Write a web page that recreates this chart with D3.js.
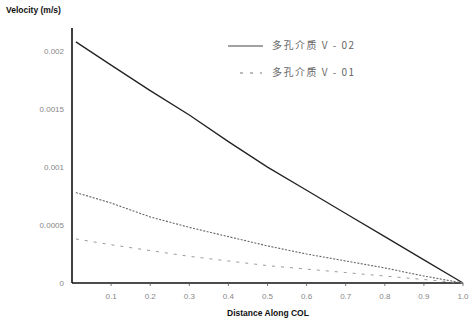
<!DOCTYPE html>
<html>
<head>
<meta charset="utf-8">
<script src="https://cdn.jsdelivr.net/npm/d3@7"></script>
<style>
  body { margin: 0; background: #fff; }
  svg { display: block; font-family: "Liberation Sans", Arial, sans-serif; }
</style>
</head>
<body>
<svg id="canvas" width="473" height="326"></svg>
<script>
// distance along COL
const distance = [0.01, 0.1, 0.2, 0.3, 0.4, 0.5, 0.6, 0.7, 0.8, 0.9, 1.0];
// velocity series (m/s)
const seriesV02 = [0.00208, 0.00188, 0.00166, 0.00145, 0.00122, 0.001, 0.0008, 0.0006, 0.0004, 0.0002, 0];
const seriesV01 = [0.00078, 0.00069, 0.00057, 0.00048, 0.0004, 0.00032, 0.00025, 0.00019, 0.00013, 0.00006, 0];
const seriesLow = [0.00038, 0.00033, 0.00028, 0.00023, 0.00019, 0.00015, 0.00012, 0.00009, 0.00006, 0.00003, 0];

const xTicks = [0.1, 0.2, 0.3, 0.4, 0.5, 0.6, 0.7, 0.8, 0.9, 1.0];
const yTicks = [0, 0.0005, 0.001, 0.0015, 0.002];
const legendLabels = ["多孔介质 V - 02", "多孔介质 V - 01"];

const canvas = d3.select("#canvas");

const x = d3.scaleLinear().domain([0, 1]).range([72, 463]);
const y = d3.scaleLinear().domain([0, 0.0022]).range([283, 28]);

// y axis
canvas.append("line")
  .attr("x1", x(0)).attr("x2", x(0))
  .attr("y1", y(0.0022)).attr("y2", y(0))
  .attr("stroke", "#111").attr("stroke-width", 1.6);

// x axis
canvas.append("line")
  .attr("x1", x(0)).attr("x2", x(1))
  .attr("y1", y(0)).attr("y2", y(0))
  .attr("stroke", "#111").attr("stroke-width", 1.6);

canvas.selectAll(".xtick")
  .data(xTicks)
  .enter()
  .append("line")
  .attr("class", "xtick")
  .attr("x1", (d) => x(d)).attr("x2", (d) => x(d))
  .attr("y1", y(0)).attr("y2", y(0) + 3)
  .attr("stroke", "#555").attr("stroke-width", 0.8);

canvas.selectAll(".xlabel")
  .data(xTicks)
  .enter()
  .append("text")
  .attr("class", "xlabel")
  .attr("x", (d) => x(d))
  .attr("y", 299)
  .attr("text-anchor", "middle")
  .attr("font-size", 8)
  .attr("fill", "#888")
  .text((d) => d.toFixed(1));

canvas.selectAll(".ylabel")
  .data(yTicks)
  .enter()
  .append("text")
  .attr("class", "ylabel")
  .attr("x", 64)
  .attr("y", (d) => y(d) + 3)
  .attr("text-anchor", "end")
  .attr("font-size", 8)
  .attr("fill", "#888")
  .text((d) => (d === 0 ? "0" : String(d)));

// axis titles
canvas.append("text")
  .attr("x", 6).attr("y", 13)
  .attr("font-size", 8.5).attr("font-weight", "bold")
  .attr("fill", "#111")
  .text("Velocity (m/s)");

canvas.append("text")
  .attr("x", 268).attr("y", 316)
  .attr("text-anchor", "middle")
  .attr("font-size", 8.5).attr("font-weight", "bold")
  .attr("fill", "#111")
  .text("Distance Along COL");

// lines
const line = d3.line()
  .x((d, i) => x(distance[i]))
  .y((d) => y(d));

canvas.append("path")
  .attr("d", line(seriesV02))
  .attr("fill", "none")
  .attr("stroke", "#222")
  .attr("stroke-width", 1.3);

canvas.append("path")
  .attr("d", line(seriesV01))
  .attr("fill", "none")
  .attr("stroke", "#666")
  .attr("stroke-width", 1.1)
  .attr("stroke-dasharray", "2,1.5");

canvas.append("path")
  .attr("d", line(seriesLow))
  .attr("fill", "none")
  .attr("stroke", "#999")
  .attr("stroke-width", 1)
  .attr("stroke-dasharray", "3,6");

// legend
canvas.append("line")
  .attr("x1", 228).attr("x2", 263)
  .attr("y1", 46).attr("y2", 46)
  .attr("stroke", "#444").attr("stroke-width", 1);

canvas.append("line")
  .attr("x1", 240).attr("x2", 262)
  .attr("y1", 73).attr("y2", 73)
  .attr("stroke", "#777").attr("stroke-width", 1)
  .attr("stroke-dasharray", "3,7");

canvas.selectAll(".legend")
  .data(legendLabels)
  .enter()
  .append("text")
  .attr("class", "legend")
  .attr("x", 272)
  .attr("y", (d, i) => 49 + i * 27)
  .attr("font-family", "'Noto Sans CJK SC', sans-serif")
  .attr("font-size", 10)
  .attr("letter-spacing", 1.5)
  .attr("fill", "#666")
  .text((d) => d);
</script>
</body>
</html>
